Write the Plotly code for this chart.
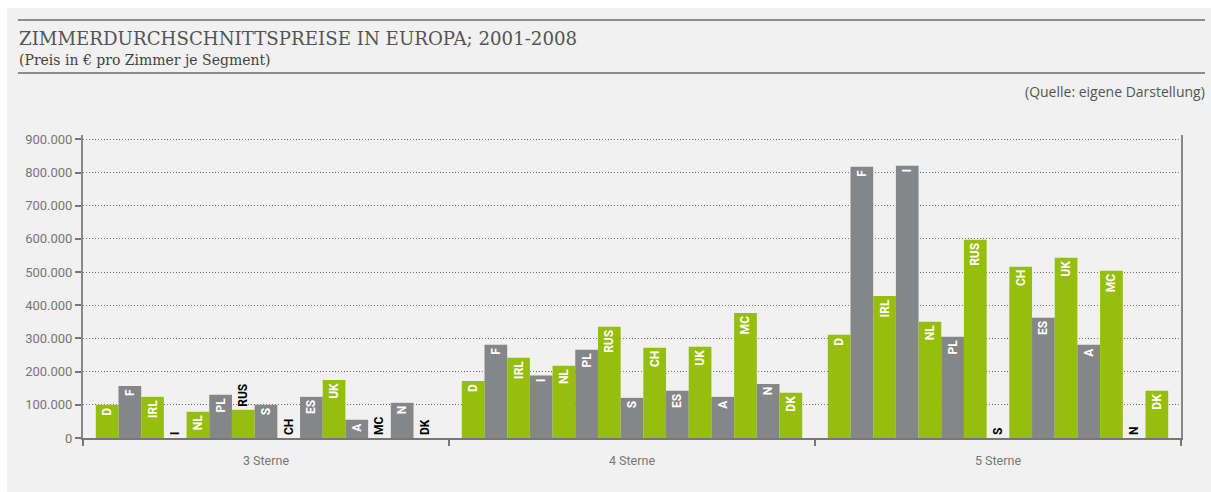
import plotly.graph_objects as go

segments = ["3 Sterne", "4 Sterne", "5 Sterne"]
countries = ["D", "F", "IRL", "I", "NL", "PL", "RUS", "S", "CH", "ES", "UK", "A", "MC", "N", "DK"]

# values per country: [3 Sterne, 4 Sterne, 5 Sterne]
D = [100000, 172000, 311000]
F = [157000, 281000, 817000]
IRL = [124000, 242000, 428000]
I = [0, 188000, 820000]
NL = [79000, 218000, 350000]
PL = [130000, 266000, 305000]
RUS = [85000, 335000, 597000]
S = [100000, 121000, 0]
CH = [0, 272000, 516000]
ES = [124000, 142000, 362000]
UK = [175000, 275000, 543000]
A = [55000, 124000, 281000]
MC = [0, 377000, 504000]
N = [106000, 163000, 0]
DK = [0, 136000, 142000]

series = [D, F, IRL, I, NL, PL, RUS, S, CH, ES, UK, A, MC, N, DK]

GREEN = "#97be0d"
GREY = "#858687"

fig = go.Figure()
for i, (name, vals) in enumerate(zip(countries, series)):
    color = GREEN if i % 2 == 0 else GREY
    positions = ["inside" if v >= 30000 * len(name) else "outside" for v in vals]
    fig.add_trace(go.Bar(
        x=segments, y=vals, name=name,
        marker=dict(color=color, line=dict(width=0)),
        text=[name] * len(vals),
        textposition=positions,
        textangle=-90,
        insidetextanchor="end",
        insidetextfont=dict(color="white", size=12, family="Roboto", weight="bold"),
        outsidetextfont=dict(color="black", size=12, family="Roboto", weight="bold"),
        cliponaxis=False,
        showlegend=False,
    ))

# panel background and rules
fig.add_shape(type="rect", xref="paper", yref="paper",
              x0=(7 - 83) / 1098, x1=(1215 - 83) / 1098,
              y0=(438 - 493) / 303, y1=(438 - 8) / 303,
              fillcolor="#f0f1f0", line=dict(width=0), layer="below")
for yp in (20, 73):
    fig.add_shape(type="line", xref="paper", yref="paper",
                  x0=(18 - 83) / 1098, x1=(1205 - 83) / 1098,
                  y0=(438 - yp) / 303, y1=(438 - yp) / 303,
                  line=dict(color="#6a6a6a", width=1.5))

fig.add_annotation(text="ZIMMERDURCHSCHNITTSPREISE IN EUROPA; 2001-2008",
                   xref="paper", yref="paper", x=(17 - 83) / 1098, y=(438 - 38) / 303,
                   xanchor="left", yanchor="middle", showarrow=False,
                   font=dict(family="DejaVu Serif", size=18.2, color="#555555"))
fig.add_annotation(text="(Preis in € pro Zimmer je Segment)",
                   xref="paper", yref="paper", x=(17 - 83) / 1098, y=(438 - 60) / 303,
                   xanchor="left", yanchor="middle", showarrow=False,
                   font=dict(family="DejaVu Serif", size=14, color="#444444"))
fig.add_annotation(text="(Quelle: eigene Darstellung)",
                   xref="paper", yref="paper", x=(1207 - 83) / 1098, y=(438 - 91) / 303,
                   xanchor="right", yanchor="middle", showarrow=False,
                   font=dict(family="Open Sans", size=14, color="#555555"))

fig.update_layout(
    width=1211, height=492,
    margin=dict(l=83, r=30, t=135, b=54),
    paper_bgcolor="white",
    plot_bgcolor="rgba(0,0,0,0)",
    barmode="group",
    bargap=0.07,
    bargroupgap=0,
    separators=",.",
    font=dict(family="Roboto", color="#777777"),
    xaxis=dict(
        type="category",
        tickson="boundaries",
        ticks="outside", ticklen=6, tickcolor="#777777", tickwidth=2,
        showline=True, linecolor="#777777", linewidth=2,
        showgrid=False,
        ticklabelstandoff=10,
        tickfont=dict(size=12.5, color="#777777"),
    ),
    yaxis=dict(
        range=[0, 913000],
        dtick=100000,
        tickformat=",d",
        ticks="outside", ticklen=6, tickcolor="#777777", tickwidth=2,
        showline=True, linecolor="#888888", linewidth=2, mirror=True,
        showgrid=True, gridcolor="#777777", griddash="1px,2px", gridwidth=1,
        zeroline=False,
        tickfont=dict(size=13, color="#777777"),
    ),
    uniformtext=dict(minsize=12, mode="show"),
)

fig.write_html("out.html")
